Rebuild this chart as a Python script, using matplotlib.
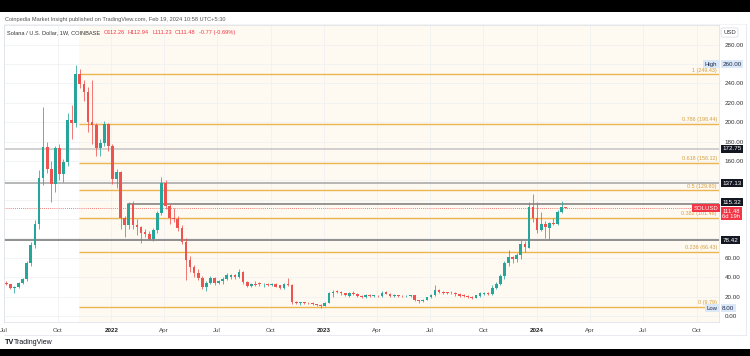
import matplotlib
matplotlib.use('Agg')
import matplotlib.pyplot as plt
import matplotlib.dates as mdates
from matplotlib.patches import Rectangle
from matplotlib.lines import Line2D
import pandas as pd

# ---------------- data ----------------
start_week = '2021-07-05'
opens = [34.5, 32.5, 28.8, 30.0, 34.0, 38.0, 54.5, 73.0, 94.5, 142.0,
         174.5, 152.0, 136.0, 173.0, 147.0, 159.0, 202.0, 199.0, 249.5, 239.0,
         231.0, 200.5, 197.0, 173.0, 179.0, 197.8, 175.8, 141.4, 148.3, 100.8,
         93.9, 116.0, 94.0, 91.5, 87.0, 84.6, 79.1, 88.7, 106.0, 137.0,
         113.0, 100.8, 99.8, 90.5, 76.7, 58.0, 51.0, 44.0, 38.9, 30.3,
         34.4, 38.9, 34.4, 36.5, 38.5, 40.0, 42.3, 40.5, 45.7, 35.4,
         31.0, 33.5, 34.0, 32.5, 32.5, 32.0, 33.0, 31.5, 28.6, 33.0,
         32.0, 14.0, 13.2, 13.6, 13.3, 13.5, 12.0, 11.2, 10.0, 13.4,
         23.5, 25.2, 24.5, 23.5, 21.0, 23.6, 23.0, 20.6, 20.0, 21.6,
         20.8, 21.0, 20.2, 24.5, 23.2, 21.0, 21.4, 20.6, 20.2, 20.2,
         21.2, 16.5, 15.4, 17.0, 19.2, 21.5, 27.0, 25.0, 24.6, 24.0,
         24.0, 22.6, 21.6, 20.6, 19.4, 19.0, 20.6, 23.0, 24.2, 22.8,
         28.6, 32.5, 41.3, 54.3, 61.2, 58.5, 63.0, 74.3, 70.0, 112.8,
         100.8, 89.0, 94.5, 91.0, 96.3, 95.0, 107.7, 112.26]
highs = [36.0, 33.5, 31.0, 35.0, 39.0, 57.0, 76.0, 99.0, 151.0, 216.0,
         180.0, 160.0, 175.0, 178.0, 162.0, 210.0, 218.0, 259.0, 255.0, 244.0,
         236.0, 243.5, 199.0, 183.0, 201.0, 199.0, 178.0, 152.0, 150.0, 103.0,
         118.0, 119.0, 100.0, 93.0, 90.0, 88.0, 91.0, 108.0, 143.8, 140.0,
         116.0, 111.0, 103.0, 94.0, 80.0, 62.0, 53.0, 48.0, 41.0, 36.0,
         41.0, 40.0, 37.5, 40.0, 44.0, 43.5, 43.5, 48.0, 46.5, 36.5,
         34.0, 36.0, 35.5, 34.0, 34.5, 34.0, 34.0, 32.0, 34.0, 38.9,
         33.0, 15.0, 14.5, 14.5, 14.0, 14.2, 12.5, 12.0, 14.0, 25.0,
         26.5, 26.5, 25.5, 24.2, 24.5, 26.0, 23.8, 21.5, 23.0, 22.5,
         22.0, 21.5, 26.0, 25.5, 24.0, 22.5, 22.0, 21.5, 21.5, 22.0,
         21.8, 17.0, 17.8, 19.5, 22.5, 32.0, 28.0, 26.0, 25.2, 25.5,
         25.0, 23.5, 22.5, 21.2, 20.5, 22.0, 24.5, 24.8, 24.8, 32.0,
         35.0, 43.0, 57.0, 68.0, 62.0, 65.0, 78.4, 77.0, 118.0, 125.9,
         118.0, 107.7, 98.0, 97.0, 101.0, 109.0, 119.0, 112.94]
lows = [31.5, 27.5, 23.4, 29.0, 33.0, 36.5, 52.0, 70.0, 90.0, 135.0,
        148.0, 118.0, 128.0, 140.0, 138.0, 155.0, 183.0, 195.0, 235.0, 222.0,
        190.0, 178.0, 165.0, 165.0, 175.0, 170.0, 136.0, 132.0, 90.0, 81.9,
        90.0, 90.0, 84.0, 75.7, 82.0, 78.0, 77.0, 86.0, 104.0, 110.0,
        95.0, 97.0, 88.0, 74.0, 37.2, 45.0, 40.0, 37.0, 28.0, 26.0,
        33.0, 31.5, 32.5, 33.5, 37.0, 38.0, 38.5, 39.0, 33.5, 29.5,
        30.0, 31.0, 31.0, 30.0, 30.5, 31.0, 29.5, 27.5, 28.0, 31.0,
        12.0, 12.5, 11.5, 12.8, 12.8, 11.8, 10.8, 8.0, 9.8, 13.0,
        20.0, 23.5, 22.0, 20.5, 20.0, 22.0, 19.5, 18.5, 19.0, 20.0,
        19.5, 19.5, 20.0, 22.5, 20.0, 20.0, 19.8, 19.5, 19.5, 19.5,
        15.2, 13.8, 14.8, 16.5, 18.8, 21.0, 23.8, 23.0, 22.8, 22.5,
        21.0, 19.8, 19.6, 18.6, 17.5, 18.5, 20.0, 22.0, 21.5, 22.0,
        27.5, 31.5, 38.5, 52.0, 55.0, 56.0, 59.0, 66.4, 69.8, 97.0,
        85.3, 88.0, 80.1, 79.5, 93.5, 94.0, 106.0, 111.23]
closes = [32.5, 28.8, 30.0, 34.0, 38.0, 54.5, 73.0, 94.5, 142.0, 174.5,
          152.0, 136.0, 173.0, 147.0, 159.0, 202.0, 199.0, 249.5, 239.0, 231.0,
          200.5, 197.0, 173.0, 179.0, 197.8, 175.8, 141.4, 148.3, 100.8, 93.9,
          116.0, 94.0, 91.5, 86.0, 84.6, 79.1, 88.7, 106.0, 137.0, 113.0,
          100.8, 99.8, 90.5, 76.7, 58.0, 51.0, 44.0, 38.9, 30.3, 34.4,
          38.9, 34.4, 36.5, 38.5, 42.0, 42.3, 40.5, 45.7, 35.4, 31.0,
          32.5, 32.0, 32.5, 32.5, 31.5, 33.0, 30.3, 28.6, 33.0, 32.0,
          14.0, 13.2, 13.6, 13.3, 12.9, 12.0, 11.2, 10.0, 13.4, 23.5,
          25.2, 24.5, 23.5, 21.5, 23.6, 23.0, 20.6, 20.0, 21.6, 20.8,
          21.0, 20.2, 23.6, 23.2, 21.0, 21.4, 20.6, 20.2, 20.6, 21.4,
          16.5, 15.4, 17.0, 19.2, 21.5, 27.0, 25.0, 24.2, 24.0, 23.4,
          22.6, 21.0, 20.2, 19.4, 19.0, 21.4, 23.6, 24.2, 22.8, 28.6,
          32.5, 41.3, 54.3, 61.2, 58.5, 63.0, 74.3, 71.0, 112.8, 100.8,
          89.0, 94.5, 91.5, 95.6, 95.0, 107.7, 112.3, 111.48]

fib_ratios = ['1', '0.786', '0.618', '0.5', '0.382', '0.236', '0']
fib_values = [249.43, 198.44, 158.12, 129.80, 101.48, 66.43, 9.79]
fib_start = '2021-11-07'

level_values = [172.75, 137.13, 115.32, 78.42]
level_starts = ['2021-06-20', '2021-06-20', '2022-01-30', '2021-06-20']
level_colors = ['#c4c4c4', '#a3a3a3', '#7a7a7a', '#727272']

last_price = 111.48
high_value = 260.00
low_value = 8.00

quarter_ticks = ['2021-07-01', '2021-10-01', '2022-01-01', '2022-04-01', '2022-07-01',
                 '2022-10-01', '2023-01-01', '2023-04-01', '2023-07-01', '2023-10-01',
                 '2024-01-01', '2024-04-01', '2024-07-01', '2024-10-01']
quarter_labels = ['Jul', 'Oct', '2022', 'Apr', 'Jul', 'Oct', '2023', 'Apr', 'Jul', 'Oct',
                  '2024', 'Apr', 'Jul', 'Oct']
price_ticks = list(range(0, 281, 20))
hidden_price_labels = [80, 100, 120, 140, 260]   # covered by the axis boxes

header_pair = ['Solana / U.S. Dollar, 1W, COINBASE',
               'O112.26', 'H112.94', 'L111.23', 'C111.48', '-0.77 (-0.69%)']

# ---------------- style ----------------
plt.rcParams['font.family'] = ['Liberation Sans', 'DejaVu Sans']
UP = '#26a69a'
DOWN = '#ef5350'
FIB = '#ebb54f'
FIBTXT = '#d69f3c'
W, H = 750, 356

fig = plt.figure(figsize=(W / 100, H / 100), dpi=100)
fig.patch.set_facecolor('white')

def fx(px):
    return px / W

def fy(py):
    return 1 - py / H

ax = fig.add_axes([fx(4), fy(322), (719 - 4) / W, (322 - 25) / H])
ax.set_facecolor('white')

x0 = mdates.date2num(pd.Timestamp('2022-01-01')) - 183.3
x1 = mdates.date2num(pd.Timestamp('2022-01-01')) + 1041.8
ax.set_xlim(x0, x1)
ax.set_ylim(-6.2, 300.3)

# cream fib background
fs = mdates.date2num(pd.Timestamp(fib_start))
ax.axvspan(fs, x1, color='#fef9f1', zorder=0, lw=0)

# grid
ax.set_yticks(price_ticks)
ax.set_xticks(mdates.date2num(pd.to_datetime(quarter_ticks)))
ax.grid(True, color='#f0f1f4', lw=0.6, zorder=0.2)
ax.set_axisbelow(True)

# fib lines and labels
for r, v in zip(fib_ratios, fib_values):
    ax.plot([fs, x1], [v, v], color=FIB, lw=1.0, zorder=1, solid_capstyle='butt')
    ax.text(0.9972, v + 1.5, f'{r} ({v:.2f})', transform=ax.get_yaxis_transform(),
            ha='right', va='bottom', fontsize=3.9, color=FIBTXT, zorder=2)

# horizontal levels
for v, s, c in zip(level_values, level_starts, level_colors):
    ax.plot([mdates.date2num(pd.Timestamp(s)), x1], [v, v], color=c, lw=1.1, zorder=1.2)

# last price dotted line
ax.axhline(last_price, color=DOWN, lw=0.6, ls=(0, (1, 1.5)), zorder=1.3)

# candles
xs = mdates.date2num(pd.date_range(start_week, periods=len(opens), freq='7D'))
for xv, o, h, l, c in zip(xs, opens, highs, lows, closes):
    col = UP if c >= o else DOWN
    ax.vlines(xv, l, h, color=col, lw=0.55, zorder=3)
    ax.bar(xv, max(abs(c - o), 0.8), bottom=min(o, c), width=4.6, color=col,
           lw=0, zorder=3.1)

# axes styling
for sp in ax.spines.values():
    sp.set_color('#e0e3eb')
    sp.set_linewidth(0.6)
ax.yaxis.tick_right()
ax.set_yticklabels(['' if t in hidden_price_labels else f'{t:.2f}' for t in price_ticks])
ax.tick_params(axis='y', length=0, pad=4, labelsize=4.5, labelcolor='#333333')
ax.set_xticklabels(quarter_labels)
ax.tick_params(axis='x', length=0, pad=4.2, labelsize=4.5, labelcolor='#444444')
for lab in ax.get_xticklabels():
    if lab.get_text().isdigit():
        lab.set_fontweight('bold')
        lab.set_color('#222222')

ytr = ax.get_yaxis_transform()
box_x = 1.0045

def axis_box(val, txt, fc, tc, fsz=4.5, shift=0.0):
    ax.text(box_x, val + shift, txt, transform=ytr, ha='left', va='center', fontsize=fsz,
            color=tc, clip_on=False, zorder=6,
            bbox=dict(boxstyle='square,pad=0.25', fc=fc, ec='none'))

level_shifts = [0.0, 0.0, 2.0, 0.0]
for v, s in zip(level_values, level_shifts):
    axis_box(v, f'{v:.2f}', '#131722', 'white', shift=s)
axis_box(high_value, f'{high_value:.2f}', '#dbe8f8', '#1e2a4a')
axis_box(low_value, f'{low_value:.2f}', '#dbe8f8', '#1e2a4a')
ax.text(box_x, last_price - 6.0, f'{last_price:.2f}\n6d 19h', transform=ytr, ha='left',
        va='center', fontsize=4.2, color='white', clip_on=False, zorder=6,
        linespacing=1.1,
        bbox=dict(boxstyle='square,pad=0.25', fc='#f23645', ec='none'))
ax.text(0.9995, last_price - 0.5, 'SOLUSD', transform=ytr, ha='right', va='center',
        fontsize=4.3, color='white', clip_on=False, zorder=6,
        bbox=dict(boxstyle='square,pad=0.25', fc='#f23645', ec='none'))
ax.text(0.9975, high_value, 'High', transform=ytr, ha='right', va='center',
        fontsize=4.3, color='#1e2a4a', zorder=6,
        bbox=dict(boxstyle='square,pad=0.25', fc='#dbe8f8', ec='none'))
ax.text(0.9975, low_value, 'Low', transform=ytr, ha='right', va='center',
        fontsize=4.3, color='#1e2a4a', zorder=6,
        bbox=dict(boxstyle='square,pad=0.25', fc='#dbe8f8', ec='none'))

# USD label
fig.text(fx(729.5), fy(32.5), 'USD', ha='center', va='center', fontsize=4.3,
         color='#333333',
         bbox=dict(boxstyle='round,pad=0.35,rounding_size=0.3', fc='white', ec='#d5d8df', lw=0.5))

# header texts
fig.text(fx(5), fy(19), 'Coinpedia Market Insight published on TradingView.com, Feb 19, 2024 10:58 UTC+5:30',
         ha='left', va='center', fontsize=4.1, color='#555555')
renderer = fig.canvas.get_renderer()
cur_x = 7
for k, t in enumerate(header_pair):
    txt = fig.text(fx(cur_x), fy(32.5), t, ha='left', va='center', fontsize=4.1,
                   color='#333333' if k == 0 else '#f23645')
    bb = txt.get_window_extent(renderer)
    cur_x = bb.x1 + 3.2

# footer
fig.text(fx(5), fy(343), 'TV', ha='left', va='center', fontsize=5.2, color='#131722',
         fontweight='bold')
fig.text(fx(14), fy(343), 'TradingView', ha='left', va='center', fontsize=5.0, color='#131722')
fig.add_artist(Line2D([fx(4), fx(746)], [fy(335), fy(335)], color='#e6e8ee', lw=0.6))
fig.add_artist(Line2D([fx(746), fx(746)], [fy(24), fy(335)], color='#e6e8ee', lw=0.6))
fig.add_artist(Line2D([fx(4), fx(746)], [fy(24), fy(24)], color='#eeeeee', lw=0.5))

# black bars
fig.add_artist(Rectangle((0, fy(12)), 1, 12 / H, transform=fig.transFigure, fc='black', ec='none'))
fig.add_artist(Rectangle((0, 0), 1, 7 / H, transform=fig.transFigure, fc='black', ec='none'))

fig.savefig('out.png', dpi=100)
